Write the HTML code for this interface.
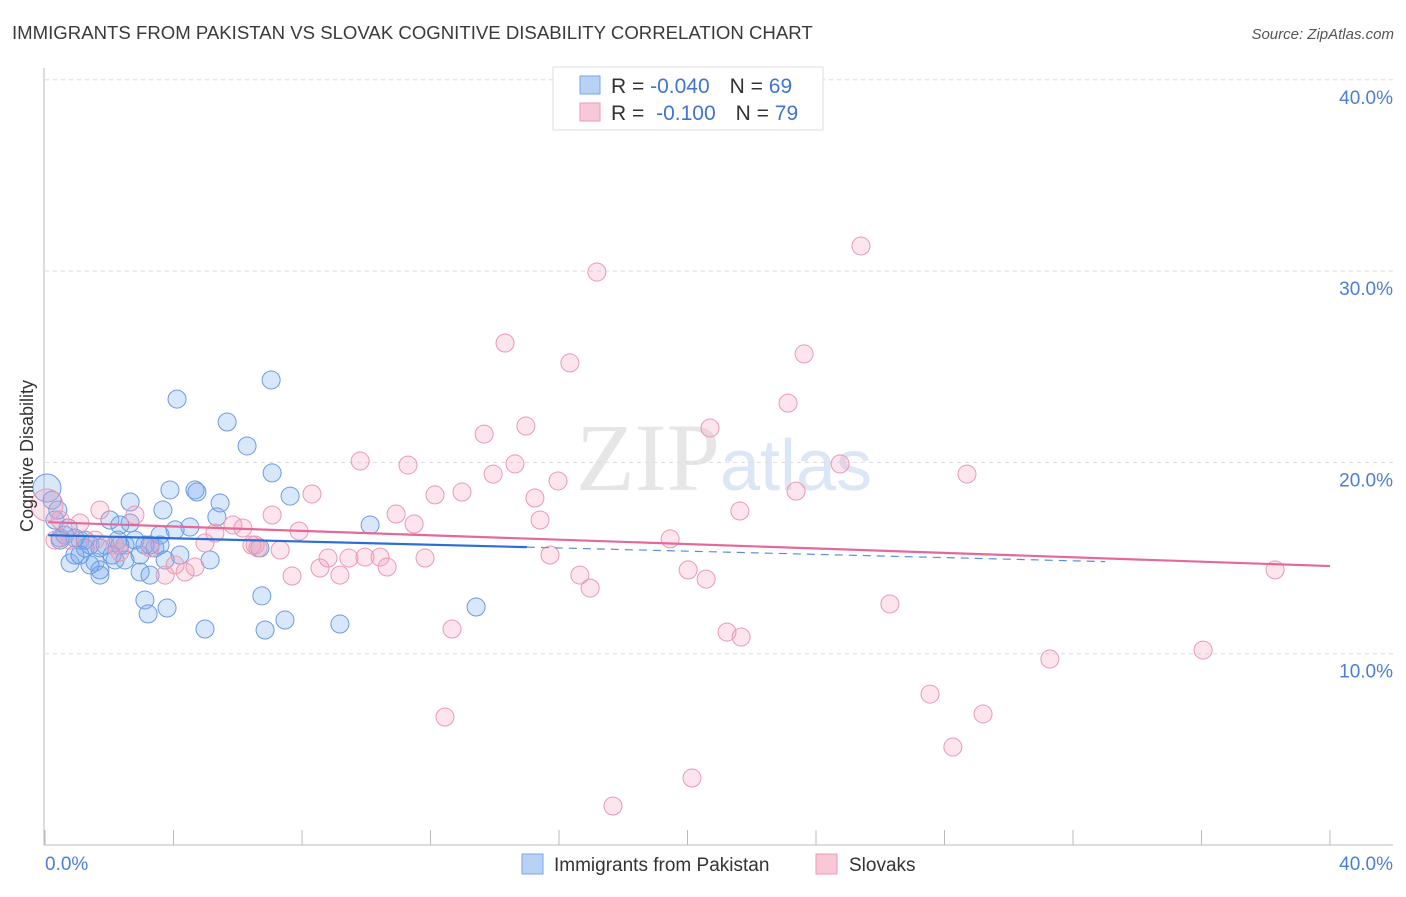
<!DOCTYPE html>
<html><head><meta charset="utf-8"><style>
body{margin:0;background:#fff;font-family:"Liberation Sans",sans-serif}
</style></head><body>
<svg width="1406" height="892" xmlns="http://www.w3.org/2000/svg" id="chart" font-family="Liberation Sans, sans-serif">
<text x="12" y="39" font-size="18.6" fill="#3a3a3a">IMMIGRANTS FROM PAKISTAN VS SLOVAK COGNITIVE DISABILITY CORRELATION CHART</text>
<text x="1394" y="39" font-size="15" fill="#555" font-style="italic" text-anchor="end">Source: ZipAtlas.com</text>
<text x="720" y="490" font-size="96" fill="#e6e6e6" font-family="Liberation Serif, serif" text-anchor="end">ZIP</text>
<text x="720" y="490" font-size="72" fill="#dbe7f6">atlas</text>
<g id="grid"></g><g id="axes"></g><g id="pts"></g><g id="lines"></g>
<text x="28" y="456" font-size="18" fill="#333" text-anchor="middle" dominant-baseline="middle" transform="rotate(-90 28 456)">Cognitive Disability</text>
<g>
<rect x="553" y="67" width="270" height="63" fill="#fff" stroke="#ddd"/>
<rect x="580" y="76" width="20" height="18" fill="#b8d2f5" stroke="#7aa6e6"/>
<rect x="580" y="103" width="20" height="18" fill="#f9c8d6" stroke="#ec9ab4"/>
<text x="611" y="93" font-size="21" fill="#333">R = <tspan fill="#3f75d0">-0.040</tspan><tspan dx="20">N = </tspan><tspan fill="#3f75d0">69</tspan></text>
<text x="611" y="120" font-size="21" fill="#333">R = <tspan fill="#3f75d0" dx="6">-0.100</tspan><tspan dx="20">N = </tspan><tspan fill="#3f75d0">79</tspan></text>
</g>
<g>
<rect x="522" y="854" width="21" height="20" fill="#b8d2f5" stroke="#7aa6e6"/>
<text x="554" y="871" font-size="19" fill="#333">Immigrants from Pakistan</text>
<rect x="816" y="854" width="21" height="20" fill="#f9c8d6" stroke="#ec9ab4"/>
<text x="849" y="871" font-size="19" fill="#333">Slovaks</text>
</g>
</svg>
<script>
const yTicks=[10,20,30,40];
const yTickLabels=["10.0%","20.0%","30.0%","40.0%"];
const xTickLabels=["0.0%","40.0%"];
const blueX=[0.06,0.22,0.31,0.47,0.62,0.78,0.93,1.09,1.25,1.4,1.56,1.71,1.87,2.02,2.18,2.33,2.49,2.65,2.8,2.96,3.11,3.21,3.27,3.42,3.58,3.67,3.8,3.89,4.05,4.11,4.2,4.51,4.67,4.73,4.98,5.14,5.35,5.45,5.67,6.29,6.69,6.75,6.85,7.04,7.07,7.47,7.63,9.18,10.12,13.42,1.71,1.4,2.65,2.27,3.58,0.47,0.93,1.25,3.27,1.71,2.33,2.96,0.72,0.4,2.09,2.49,3.11,1.09,3.74];
const blueY=[18.66,18.03,16.99,16.05,16.2,14.74,15.16,15.94,15.53,15.68,14.79,14.38,15.68,16.99,14.9,16.73,15.68,17.93,15.94,14.27,12.81,12.08,14.11,15.53,15.68,17.51,12.39,18.56,16.47,23.31,15.16,16.62,18.56,18.45,11.29,14.9,17.15,17.88,22.11,20.86,15.53,13.02,11.24,24.31,19.45,11.76,18.24,11.55,16.73,12.44,14.11,14.64,16.83,15.94,16.2,15.94,16.05,15.94,15.68,15.53,15.68,15.16,16.57,17.51,15.16,14.9,15.68,15.16,14.9];
const pinkX=[0.06,0.31,0.78,1.09,1.71,2.18,2.33,2.8,3.27,3.74,4.05,4.36,4.67,4.98,5.29,5.85,6.16,6.44,6.63,7.07,7.32,7.69,7.91,8.31,8.56,8.81,9.18,9.46,9.81,9.96,10.43,10.65,10.93,11.3,11.49,11.83,12.14,12.45,12.67,12.98,13.67,13.95,14.32,14.63,14.97,15.25,15.41,15.72,15.97,16.34,16.65,16.97,17.18,17.68,19.46,20.02,20.14,20.58,20.7,21.23,21.63,21.67,23.13,23.38,23.63,24.75,25.4,26.3,27.55,28.26,28.7,29.2,31.28,36.05,38.29,0.47,1.56,6.54];
const pinkY=[17.77,15.94,15.94,16.83,17.51,15.68,15.32,17.25,15.53,14.11,14.64,14.27,14.53,15.79,16.31,16.73,16.57,15.68,15.53,17.25,15.42,14.06,16.41,18.35,14.48,15.0,14.11,15.0,20.07,15.05,15.05,14.53,17.3,19.86,16.78,15.0,18.3,6.69,11.29,18.45,21.48,19.39,26.24,19.92,21.9,18.14,16.99,15.16,19.03,25.2,14.11,13.43,29.95,2.04,16.0,14.38,3.5,13.9,21.8,11.13,17.46,10.87,23.1,18.5,25.67,19.92,31.31,12.6,7.89,5.12,19.39,6.85,9.72,10.19,14.38,16.99,15.94,15.68];
const blueTrend=[16.2,14.52];
const pinkTrend=[16.88,14.58];
const NS="http://www.w3.org/2000/svg";
const X=v=>45+v*1285/40, Y=v=>845-v*19.13;
function mk(t,a,p){const e=document.createElementNS(NS,t);for(const k in a)e.setAttribute(k,a[k]);document.getElementById(p).appendChild(e);return e;}
yTicks.forEach((t,i)=>{
 const g=mk('line',{x1:45,x2:1393,y1:Y(t),y2:Y(t),stroke:'#ddd','stroke-dasharray':'4,4'},'grid');
 
 
 const l=mk('text',{x:1393,y:Y(t)+24,'font-size':19,fill:'#4a7fd4','text-anchor':'end'},'grid');l.textContent=yTickLabels[i];
 
 
});
let a=mk('line',{x1:44,x2:44,y1:68,y2:845,stroke:'#bbb'},'axes');


a=mk('line',{x1:44,x2:1393,y1:845,y2:845,stroke:'#bbb'},'axes');


for(let i=0;i<=10;i++){const t=mk('line',{x1:X(i*4),x2:X(i*4),y1:830,y2:845,stroke:'#bbb'},'axes');
 
 }
[[0,'start',45],[1,'end',1393]].forEach(([i,an,x])=>{const t=mk('text',{x:x,y:870,'font-size':19,fill:'#4a7fd4','text-anchor':an},'axes');t.textContent=xTickLabels[i];
 
 });
blueX.forEach((v,i)=>{const c=mk('circle',{cx:X(v),cy:Y(blueY[i]),r:i==0?14:9,fill:'rgba(120,168,238,0.28)',stroke:'#6a9ae3','stroke-width':1},'pts');
 
 });
pinkX.forEach((v,i)=>{const c=mk('circle',{cx:X(v),cy:Y(pinkY[i]),r:i==0?16:9,fill:'rgba(246,160,188,0.28)',stroke:'#eb98b3','stroke-width':1},'pts');
 
 });
const bt=x=>blueTrend[0]+(blueTrend[1]-blueTrend[0])*x/40, pt=x=>pinkTrend[0]+(pinkTrend[1]-pinkTrend[0])*x/40;
let l=mk('line',{x1:X(0.1),y1:Y(bt(0.1)),x2:X(15),y2:Y(bt(15)),stroke:'#2b6fd6','stroke-width':2.2},'lines');


l=mk('line',{x1:X(15),y1:Y(bt(15)),x2:X(33),y2:Y(bt(33)),stroke:'#5b8ee0','stroke-width':1.2,'stroke-dasharray':'8,6'},'lines');


l=mk('line',{x1:X(0.1),y1:Y(pt(0.1)),x2:X(40),y2:Y(pt(40)),stroke:'#e4699a','stroke-width':2.2},'lines');


</script>
</body></html>
